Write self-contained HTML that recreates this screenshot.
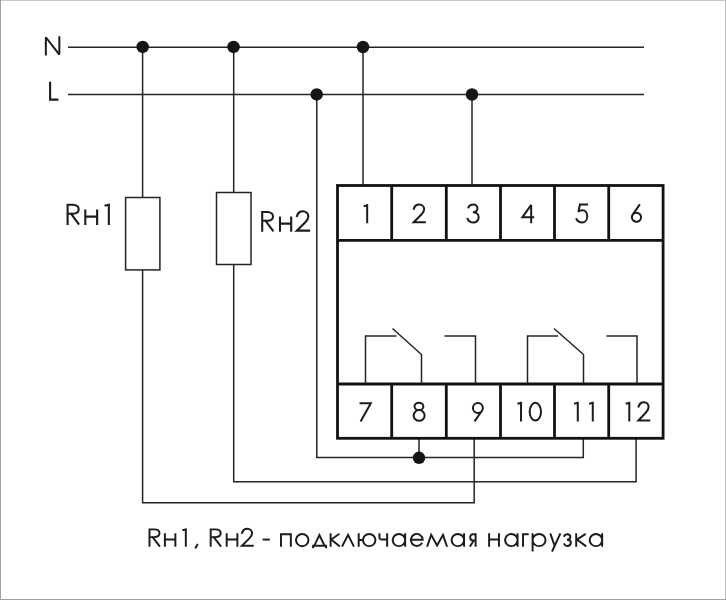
<!DOCTYPE html>
<html><head><meta charset="utf-8">
<style>
html,body{margin:0;padding:0;background:#fff;}
body{width:726px;height:600px;overflow:hidden;}
svg{display:block;will-change:transform;}
.tx path{vector-effect:non-scaling-stroke;}
</style></head><body>
<svg width="726" height="600" viewBox="0 0 726 600">
<rect x="0" y="0" width="726" height="600" fill="#fff"/>
<!-- outer border -->
<rect x="0" y="0" width="726" height="1" fill="#c8c8c8"/>
<rect x="725" y="0" width="1" height="600" fill="#c4c4c4"/>
<rect x="0" y="0" width="1" height="600" fill="#a0a0a0"/>
<rect x="0" y="599" width="726" height="1" fill="#a0a0a0"/>

<g stroke="#242424" stroke-width="1.5" fill="none">
  <!-- N and L buses -->
  <line x1="68" y1="47.2" x2="644" y2="47.2"/>
  <line x1="68" y1="94.6" x2="644" y2="94.6"/>
  <!-- Rh1 branch -->
  <line x1="142.6" y1="47" x2="142.6" y2="197.5"/>
  <rect x="125.6" y="197.5" width="34.3" height="72.4"/>
  <polyline points="142.6,270 142.6,502.8 474.2,502.8 474.2,438"/>
  <!-- Rh2 branch -->
  <line x1="233.7" y1="47" x2="233.7" y2="192.5"/>
  <rect x="216.5" y="192.5" width="34.5" height="72"/>
  <polyline points="233.7,264.6 233.7,481.7 636.1,481.7 636.1,438"/>
  <!-- L to terminals 8, 11 -->
  <polyline points="316.8,94.5 316.8,457.5 583.3,457.5 583.3,438"/>
  <line x1="419" y1="438" x2="419" y2="457.5"/>
  <!-- N to terminal 1 -->
  <line x1="363" y1="47" x2="363" y2="185"/>
  <!-- L to terminal 3 -->
  <line x1="472" y1="94.5" x2="472" y2="185"/>
  <!-- relay contacts -->
  <polyline points="365.5,384 365.5,336 396.5,336"/>
  <polyline points="392.5,328.5 421.5,354.5 421.5,384"/>
  <polyline points="444.5,336 475.5,336 475.5,384"/>
  <polyline points="527.5,384 527.5,336 558,336"/>
  <polyline points="554,328.5 583.5,354.5 583.5,384"/>
  <polyline points="606.5,336 637,336 637,384"/>
</g>

<!-- dots -->
<g fill="#151515">
  <circle cx="142.7" cy="46.9" r="6.25"/>
  <circle cx="233.5" cy="46.9" r="6.25"/>
  <circle cx="363" cy="47" r="6.25"/>
  <circle cx="316.7" cy="94.4" r="6.25"/>
  <circle cx="472" cy="94.5" r="6.25"/>
  <circle cx="419" cy="457.8" r="6.25"/>
</g>

<!-- terminal block -->
<g stroke="#121212" stroke-width="2.8" fill="none">
  <rect x="337.5" y="185.5" width="325.6" height="252.8"/>
  <line x1="337.5" y1="240.3" x2="663.1" y2="240.3"/>
  <line x1="337.5" y1="384" x2="663.1" y2="384"/>
  <line x1="391.7" y1="185.5" x2="391.7" y2="240.3"/>
  <line x1="446.3" y1="185.5" x2="446.3" y2="240.3"/>
  <line x1="500.5" y1="185.5" x2="500.5" y2="240.3"/>
  <line x1="554.5" y1="185.5" x2="554.5" y2="240.3"/>
  <line x1="608.7" y1="185.5" x2="608.7" y2="240.3"/>
  <line x1="391.7" y1="384" x2="391.7" y2="438.3"/>
  <line x1="446.3" y1="384" x2="446.3" y2="438.3"/>
  <line x1="500.5" y1="384" x2="500.5" y2="438.3"/>
  <line x1="554.5" y1="384" x2="554.5" y2="438.3"/>
  <line x1="608.7" y1="384" x2="608.7" y2="438.3"/>
</g>

<!-- labels -->
<g class="tx" fill="none" stroke="#1c1c1c" stroke-linejoin="miter" stroke-miterlimit="3" stroke-linecap="square">
<g stroke-width="2.0">
<path transform="translate(45.85,54.55) scale(0.1730,0.173)" d="M0,0 L0,-100 L78,0 L78,-100"/>
</g>
<g stroke-width="2.1">
<path transform="translate(50.1,99.65) scale(0.1690,0.169)" d="M0,-100 L0,0 L43,0"/>
</g>
<g stroke-width="2.1">
<path transform="translate(67.6,223.85) scale(0.1910,0.191)" d="M0,0 L0,-100 L28,-100 C47,-100 58,-89 58,-76 C58,-62 47,-53 28,-53 L0,-53 M18,-53 L57,0"/>
<path transform="translate(85.3,223.85) scale(0.1910,0.191)" d="M0,0 L0,-70 M0,-38 L62,-38 M62,0 L62,-70"/>
<path transform="translate(105.35,223.85) scale(0.2196,0.191)" d="M16,-100 L16,0 M1,-96 L16,-100"/>
</g>
<g stroke-width="2.1">
<path transform="translate(262.2,230.65) scale(0.1860,0.186)" d="M0,0 L0,-100 L28,-100 C47,-100 58,-89 58,-76 C58,-62 47,-53 28,-53 L0,-53 M18,-53 L57,0"/>
<path transform="translate(280.0,230.65) scale(0.1804,0.186)" d="M0,0 L0,-70 M0,-38 L62,-38 M62,0 L62,-70"/>
<path transform="translate(296.8,230.65) scale(0.1860,0.186)" d="M1,-79 C5,-95 18,-104 33,-104 C49,-104 62,-92 62,-76 C62,-64 55,-55 47,-47 L0,0 L66,0"/>
</g>
<g stroke-width="2.0">
<path transform="translate(364.45,222.25) scale(0.1700,0.17)" d="M16,-100 L16,0 M1,-96 L16,-100"/>
<path transform="translate(413.65,222.25) scale(0.1700,0.17)" d="M1,-79 C5,-95 18,-104 33,-104 C49,-104 62,-92 62,-76 C62,-64 55,-55 47,-47 L0,0 L66,0"/>
<path transform="translate(467.8,222.25) scale(0.1700,0.17)" d="M4,-88 C10,-99 21,-104 33,-104 C47,-104 57,-94 57,-82 C57,-68 46,-59 30,-59 C49,-59 64,-48 64,-30 C64,-12 50,2 33,2 C18,2 5,-6 -1,-20"/>
<path transform="translate(522.35,222.25) scale(0.1700,0.17)" d="M52,0 L52,-102 L0,-29 L64,-29"/>
<path transform="translate(576.7,222.25) scale(0.1700,0.17)" d="M61,-104 L19,-104 L10,-62 C17,-69 25,-71 33,-71 C50,-71 62,-56 62,-36 C62,-15 49,1 32,1 C18,1 6,-6 -1,-18"/>
<path transform="translate(630.78,222.25) scale(0.1700,0.17)" d="M50,-101 L11.3,-44.6 M6.6,-29.4 A27,27 0 1,0 60.6,-29.4 A27,27 0 1,0 6.6,-29.4"/>
</g>
<g stroke-width="2.0">
<path transform="translate(359.65,420.55) scale(0.1770,0.177)" d="M5,-98 L63,-98 L8,0"/>
<path transform="translate(413.47,420.55) scale(0.1770,0.177)" d="M6,-80 A25,21 0 1,0 56,-80 A25,21 0 1,0 6,-80 M1,-29 A31,30 0 1,0 63,-29 A31,30 0 1,0 1,-29"/>
<path transform="translate(472.95,420.55) scale(0.1770,0.177)" d="M0,-71 A28,28 0 1,0 56,-71 A28,28 0 1,0 0,-71 M12,0 L50.8,-54.8"/>
<path transform="translate(518.2,420.55) scale(0.1770,0.177)" d="M16,-100 L16,0 M1,-96 L16,-100"/>
<path transform="translate(529.7,420.55) scale(0.1770,0.177)" d="M0,-50 A32,50 0 1,0 64,-50 A32,50 0 1,0 0,-50"/>
<path transform="translate(574.95,420.55) scale(0.1770,0.177)" d="M16,-100 L16,0 M1,-96 L16,-100"/>
<path transform="translate(589.95,420.55) scale(0.1770,0.177)" d="M16,-100 L16,0 M1,-96 L16,-100"/>
<path transform="translate(626.45,420.55) scale(0.1770,0.177)" d="M16,-100 L16,0 M1,-96 L16,-100"/>
<path transform="translate(638.4,420.55) scale(0.1646,0.177)" d="M1,-79 C5,-95 18,-104 33,-104 C49,-104 62,-92 62,-76 C62,-64 55,-55 47,-47 L0,0 L66,0"/>
</g>
<g stroke-width="1.95">
<path transform="translate(149.5,545.8) scale(0.1722,0.164)" d="M0,0 L0,-100 L28,-100 C47,-100 58,-89 58,-76 C58,-62 47,-53 28,-53 L0,-53 M18,-53 L57,0"/>
<path transform="translate(164.9,545.8) scale(0.1689,0.164)" d="M0,0 L0,-70 M0,-38 L62,-38 M62,0 L62,-70"/>
<path transform="translate(183.2,545.8) scale(0.1640,0.164)" d="M16,-100 L16,0 M1,-96 L16,-100"/>
<path transform="translate(195.7,545.8) scale(0.1640,0.164)" d="M10,-6 L0,11"/>
<path transform="translate(210.7,545.8) scale(0.1722,0.164)" d="M0,0 L0,-100 L28,-100 C47,-100 58,-89 58,-76 C58,-62 47,-53 28,-53 L0,-53 M18,-53 L57,0"/>
<path transform="translate(226.7,545.8) scale(0.1722,0.164)" d="M0,0 L0,-70 M0,-38 L62,-38 M62,0 L62,-70"/>
<path transform="translate(241.9,545.8) scale(0.1640,0.164)" d="M1,-79 C5,-95 18,-104 33,-104 C49,-104 62,-92 62,-76 C62,-64 55,-55 47,-47 L0,0 L66,0"/>
<path transform="translate(263.6,545.8) scale(0.1640,0.164)" d="M0,-38 L32,-38"/>
<path transform="translate(281.0,545.8) scale(0.1640,0.164)" d="M0,0 L0,-70 L60,-70 L60,0"/>
<path transform="translate(296.0,545.8) scale(0.1640,0.164)" d="M0,-35 A38,37.5 0 1,0 76,-35 A38,37.5 0 1,0 0,-35"/>
<path transform="translate(313.1,545.8) scale(0.1640,0.164)" d="M0,9 L0,0 L79,0 L79,9 M7,0 L38.5,-66 L70,0"/>
<path transform="translate(330.6,545.8) scale(0.1640,0.164)" d="M0,-70 L0,0 M49,-70 L4,-38 L52,0"/>
<path transform="translate(342.5,545.8) scale(0.1640,0.164)" d="M0,0 L34,-67 L67,0"/>
<path transform="translate(358.7,545.8) scale(0.1640,0.164)" d="M0,0 L0,-70 M0,-35 L26,-35 M26,-35 A38,37 0 1,0 102,-35 A38,37 0 1,0 26,-35"/>
<path transform="translate(379.45,545.8) scale(0.1640,0.164)" d="M0,-70 L0,-50 C0,-43 6,-39 14,-39 L47,-39 M47,-70 L47,0"/>
<path transform="translate(392.7,545.8) scale(0.1640,0.164)" d="M0,-35 A38,37 0 1,0 76,-35 A38,37 0 1,0 0,-35 M76,-70 L76,0"/>
<path transform="translate(410.9,545.8) scale(0.1640,0.164)" d="M0,-37 L72,-37 A36,37 0 1,0 65.4,-14"/>
<path transform="translate(427.4,545.8) scale(0.1640,0.164)" d="M0,0 L23,-67 L59,-2 L95,-67 L118,0"/>
<path transform="translate(451.6,545.8) scale(0.1640,0.164)" d="M0,-35 A38,37 0 1,0 76,-35 A38,37 0 1,0 0,-35 M76,-70 L76,0"/>
<path transform="translate(470.2,545.8) scale(0.1640,0.164)" d="M33,-70 L17,-70 C7,-70 0,-62 0,-51 C0,-40 7,-32 17,-32 L33,-32 M22,-32 L1,0 M33,-70 L33,0"/>
<path transform="translate(489.1,545.8) scale(0.1591,0.164)" d="M0,0 L0,-70 M0,-38 L62,-38 M62,0 L62,-70"/>
<path transform="translate(505.1,545.8) scale(0.1640,0.164)" d="M0,-35 A38,37 0 1,0 76,-35 A38,37 0 1,0 0,-35 M76,-70 L76,0"/>
<path transform="translate(523.0,545.8) scale(0.1640,0.164)" d="M0,0 L0,-70 L29,-70"/>
<path transform="translate(532.6,545.8) scale(0.1640,0.164)" d="M0,-70 L0,29 M0,-35 A39.5,37 0 1,0 79,-35 A39.5,37 0 1,0 0,-35"/>
<path transform="translate(550.6,545.8) scale(0.1640,0.164)" d="M0,-70 L24.5,0 M57,-70 L11,30"/>
<path transform="translate(564.3,545.8) scale(0.1640,0.164)" d="M0,-61 C4,-68 10,-71 18,-71 C29,-71 37,-65 37,-55 C37,-44 28,-37 16,-37 C30,-37 40,-30 40,-18 C40,-6 30,1 18,1 C10,1 3,-3 0,-10"/>
<path transform="translate(576.2,545.8) scale(0.1771,0.164)" d="M0,-70 L0,0 M49,-70 L4,-38 L52,0"/>
<path transform="translate(589.7,545.8) scale(0.1640,0.164)" d="M0,-35 A38,37 0 1,0 76,-35 A38,37 0 1,0 0,-35 M76,-70 L76,0"/>
</g>
</g>
</svg>
</body></html>
